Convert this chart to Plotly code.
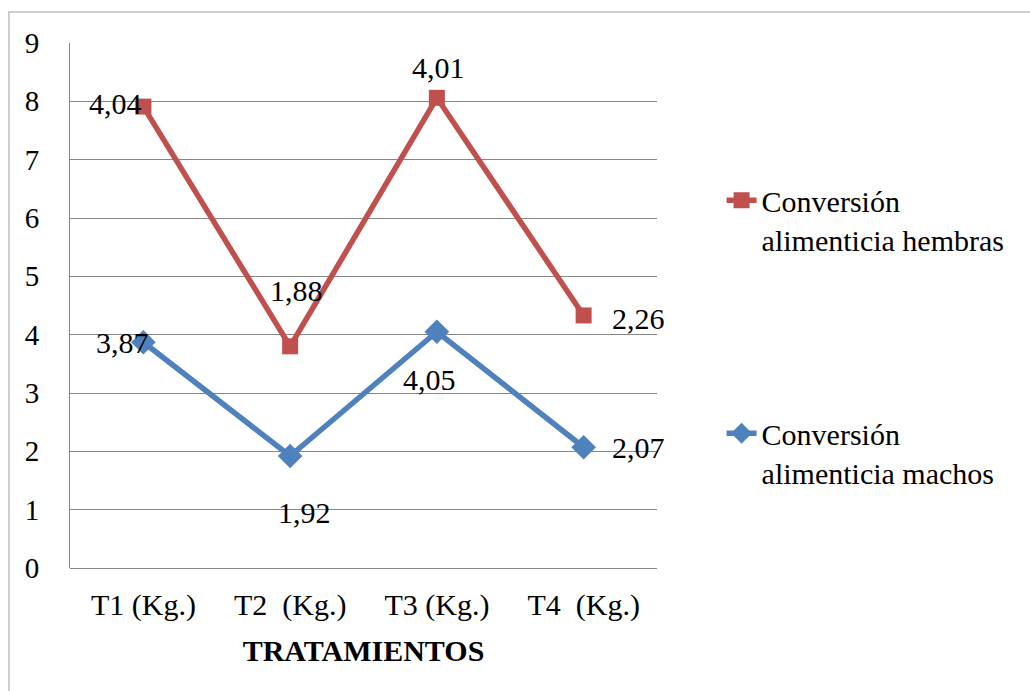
import plotly.graph_objects as go

# Feed conversion per treatment (stacked line chart: hembras sits on top of machos)
tratamientos = ["T1 (Kg.)", "T2\u00a0 (Kg.)", "T3 (Kg.)", "T4\u00a0 (Kg.)"]
machos = [3.87, 1.92, 4.05, 2.07]
hembras = [4.04, 1.88, 4.01, 2.26]

# label offsets (pixels) relative to each point
machos_shift = [(-21, 0), (14, -56), (-7, -48), (55, 0)]
hembras_shift = [(-28, 3), (6, 56), (2, 30), (55, -3)]

FONT = "Liberation Serif, Times New Roman, serif"
RED = "#C0504D"
BLUE = "#4F81BD"
GRID = "#868686"


def fmt(v):
    return f"{v:.2f}".replace(".", ",")


fig = go.Figure()
fig.add_trace(go.Scatter(
    x=tratamientos, y=machos, name="Conversión<br>alimenticia machos",
    stackgroup="s", fill="none", mode="lines+markers",
    line=dict(color=BLUE, width=5.5),
    marker=dict(symbol="diamond", size=19, color=BLUE),
    legendgroup="m", legendrank=2,
))
fig.add_trace(go.Scatter(
    x=tratamientos, y=hembras, name="Conversión<br>alimenticia hembras",
    stackgroup="s", fill="none", mode="lines+markers",
    line=dict(color=RED, width=5.5),
    marker=dict(symbol="square", size=16, color=RED),
    legendgroup="h", legendrank=1,
))

annotations = []
for i, cat in enumerate(tratamientos):
    dx, dy = machos_shift[i]
    annotations.append(dict(x=cat, y=machos[i], text=fmt(machos[i]), showarrow=False,
                            xshift=dx, yshift=dy, font=dict(family=FONT, size=30, color="black")))
    dx, dy = hembras_shift[i]
    annotations.append(dict(x=cat, y=machos[i] + hembras[i], text=fmt(hembras[i]), showarrow=False,
                            xshift=dx, yshift=dy, font=dict(family=FONT, size=30, color="black")))

fig.update_layout(
    width=1030, height=691,
    margin=dict(l=70, r=373, t=43, b=123),
    paper_bgcolor="white", plot_bgcolor="white",
    font=dict(family=FONT, size=30, color="black"),
    showlegend=True,
    legend=dict(
        x=1.11, y=0.75, xanchor="left", yanchor="top",
        traceorder="grouped", tracegroupgap=152,
        valign="top", font=dict(family=FONT, size=30, color="black"),
        bgcolor="rgba(0,0,0,0)",
    ),
    annotations=annotations,
    shapes=[dict(type="rect", xref="paper", yref="paper",
                 x0=-0.104, x1=1.7, y0=-0.3, y1=1.059,
                 line=dict(color="#BFBFBF", width=1.5), layer="below")],
)
fig.update_xaxes(
    range=[-0.5, 3.5], showgrid=False, showline=False, zeroline=False,
    ticks="", ticklabelstandoff=16, tickfont=dict(family=FONT, size=30),
    title=dict(text="<b>TRATAMIENTOS</b>", font=dict(family=FONT, size=30), standoff=18),
)
fig.update_yaxes(
    range=[0, 9], dtick=1, tick0=0, showgrid=True, gridcolor=GRID, gridwidth=1,
    zeroline=True, zerolinecolor=GRID, zerolinewidth=1,
    showline=True, linecolor=GRID, linewidth=1, mirror=False,
    ticks="", ticklabelstandoff=24, tickfont=dict(family=FONT, size=29),
)

fig.write_html("out.html")
